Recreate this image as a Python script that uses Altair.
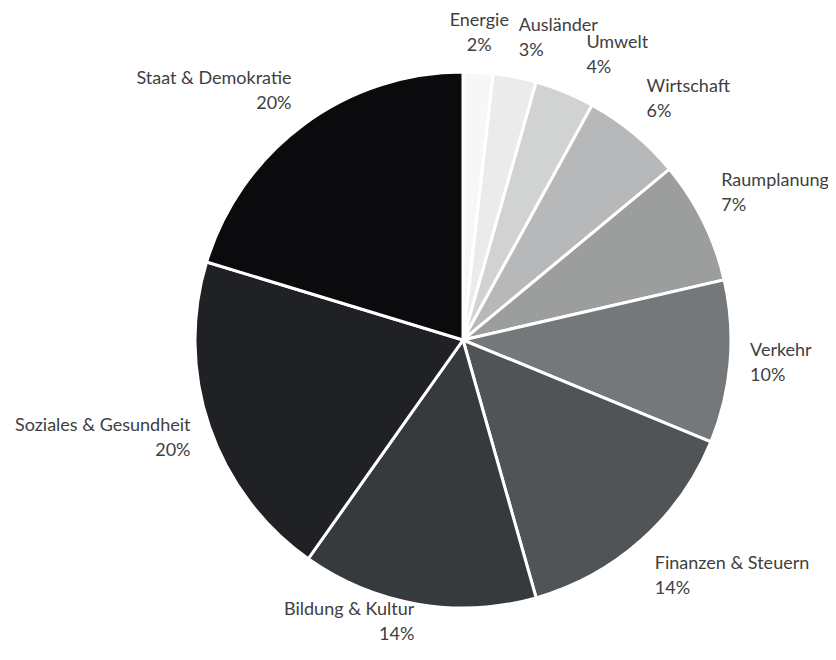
import altair as alt
import pandas as pd

categories = ["Energie", "Ausländer", "Umwelt", "Wirtschaft", "Raumplanung", "Verkehr",
              "Finanzen & Steuern", "Bildung & Kultur", "Soziales & Gesundheit", "Staat & Demokratie"]
shares = [1.8, 2.6, 3.6, 6.0, 7.4, 9.8, 14.4, 14.2, 19.9, 20.3]
pct_labels = ["2%", "3%", "4%", "6%", "7%", "10%", "14%", "14%", "20%", "20%"]
colors = ["#f7f7f7", "#ebebeb", "#d1d2d2", "#b6b8b9", "#9c9e9e", "#75787a",
          "#515456", "#373a3d", "#1f2124", "#0b0b0e"]

df = pd.DataFrame({
    "idx": list(range(len(categories))),
    "cat": categories,
    "share": shares,
    "pct": pct_labels,
})
df["lbl"] = df["cat"] + "\n" + df["pct"]

base = alt.Chart(df)

pie = base.mark_arc(outerRadius=268, stroke="white", strokeWidth=3).encode(
    theta=alt.Theta("share:Q", stack=True),
    order=alt.Order("idx:Q"),
    color=alt.Color("cat:N", scale=alt.Scale(domain=categories, range=colors), legend=None),
)

text_base = base.transform_window(
    cum="sum(share)", sort=[alt.SortField("idx")], frame=[None, 0]
).transform_joinaggregate(
    total="sum(share)"
).transform_calculate(
    mid="(datum.cum - datum.share / 2) / datum.total",
    deg="(datum.cum - datum.share / 2) / datum.total * 360",
)

enc = dict(
    theta=alt.Theta("mid:Q", scale=alt.Scale(domain=[0, 1], range=[0, 6.283185307179586]), stack=None),
    radius=alt.value(288),
    text=alt.Text("lbl:N"),
)

font = dict(font="Lato", fontSize=18, lineHeight=25, color="#404040", lineBreak="\n")

# (angle range of the slice middle, align, baseline, dx, dy)
groups = [
    ("datum.deg < 5 || datum.deg >= 355", "center", "bottom", 0, -22),
    ("datum.deg >= 5 && datum.deg < 15", "left", "bottom", 0, -22),
    ("datum.deg >= 15 && datum.deg < 30", "left", "bottom", 14, -22),
    ("datum.deg >= 30 && datum.deg < 70", "left", "bottom", 0, -22),
    ("datum.deg >= 70 && datum.deg < 120", "left", "middle", 0, -12),
    ("datum.deg >= 120 && datum.deg < 170", "left", "top", 0, 0),
    ("datum.deg >= 170 && datum.deg < 200", "right", "middle", 0, -14),
    ("datum.deg >= 200 && datum.deg < 300", "right", "middle", 0, -7),
    ("datum.deg >= 300 && datum.deg < 355", "right", "bottom", 0, -21),
]

layers = [pie]
for cond, al, bl, dx, dy in groups:
    layers.append(
        text_base.transform_filter(cond)
        .mark_text(align=al, baseline=bl, dx=dx, dy=dy, **font)
        .encode(**enc)
    )

chart = alt.layer(*layers).resolve_scale(theta="independent").properties(
    width=600,
    height=600,
    autosize=alt.AutoSizeParams(type="none"),
    padding={"left": 155, "top": 32, "right": 65, "bottom": 12},
).configure_view(stroke=None)

chart.save("out.html", embed_options={"renderer": "svg", "actions": False})
